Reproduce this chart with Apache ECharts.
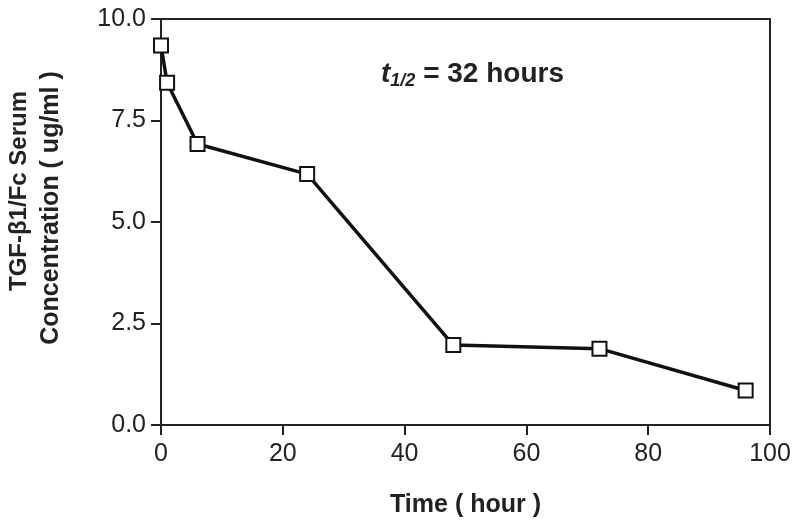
<!DOCTYPE html>
<html><head><meta charset="utf-8">
<script src="https://cdn.jsdelivr.net/npm/echarts@6/dist/echarts.min.js"></script>
<style>html,body{margin:0;padding:0;background:#fff}#c{width:800px;height:525px}</style>
</head><body><div id="c"></div>
<script>
const timeHours = [0, 1, 6, 24, 48, 72, 96];
const concentration = [9.35, 8.43, 6.92, 6.18, 1.97, 1.88, 0.85];
const yTicks = [0, 2.5, 5, 7.5, 10];
const xTicks = [0, 20, 40, 60, 80, 100];

const chart = echarts.init(document.getElementById('c'));
const font = 'Liberation Sans, Arial, sans-serif';
chart.setOption({
  animation: false,
  backgroundColor: '#fff',
  grid: {left: 161, right: 30, top: 19, bottom: 100, show: true, borderColor: '#222', borderWidth: 2},
  xAxis: {
    type: 'value', min: 0, max: 100, interval: 20,
    name: 'Time ( hour )', nameLocation: 'middle', nameGap: 68,
    nameTextStyle: {fontFamily: font, fontWeight: 'bold', fontSize: 25, color: '#222'},
    axisLine: {onZero: false, lineStyle: {color: '#222', width: 2}},
    axisTick: {inside: false, length: 10, lineStyle: {color: '#222', width: 2}},
    axisLabel: {margin: 17, fontFamily: font, fontSize: 25, color: '#222'},
    splitLine: {show: false}
  },
  yAxis: {
    type: 'value', min: 0, max: 10, interval: 2.5,
    axisLine: {onZero: false, lineStyle: {color: '#222', width: 2}},
    axisTick: {inside: false, length: 10, lineStyle: {color: '#222', width: 2}},
    axisLabel: {margin: 15, fontFamily: font, fontSize: 25, color: '#222', formatter: v => v.toFixed(1)},
    splitLine: {show: false}
  },
  series: [{
    type: 'line',
    data: timeHours.map((t, i) => [t, concentration[i]]),
    symbol: 'rect', symbolSize: 14,
    lineStyle: {color: '#111', width: 3.5},
    itemStyle: {color: '#fff', borderColor: '#111', borderWidth: 2},
    z: 3
  }],
  graphic: [{
    type: 'text', x: 19, y: 191, rotation: Math.PI / 2,
    style: {
      text: 'TGF-β1/Fc Serum',
      fontFamily: font, fontSize: 24, fontWeight: 'bold', fill: '#222',
      align: 'center', verticalAlign: 'middle'
    }
  }, {
    type: 'text', x: 51, y: 208, rotation: Math.PI / 2,
    style: {
      text: 'Concentration ( ug/ml )',
      fontFamily: font, fontSize: 25, fontWeight: 'bold', fill: '#222',
      align: 'center', verticalAlign: 'middle'
    }
  }, {
    type: 'text', left: 381, top: 60,
    style: {
      rich: {
        t: {fontFamily: font, fontSize: 28, fontWeight: 'bold', fontStyle: 'italic', fill: '#222'},
        s: {fontFamily: font, fontSize: 18, fontWeight: 'bold', fontStyle: 'italic', fill: '#222', verticalAlign: 'bottom', padding: [14, 0, 0, 0]},
        n: {fontFamily: font, fontSize: 28, fontWeight: 'bold', fill: '#222'}
      },
      text: '{t|t}{s|1/2}{n| = 32 hours}'
    }
  }]
});
</script></body></html>
